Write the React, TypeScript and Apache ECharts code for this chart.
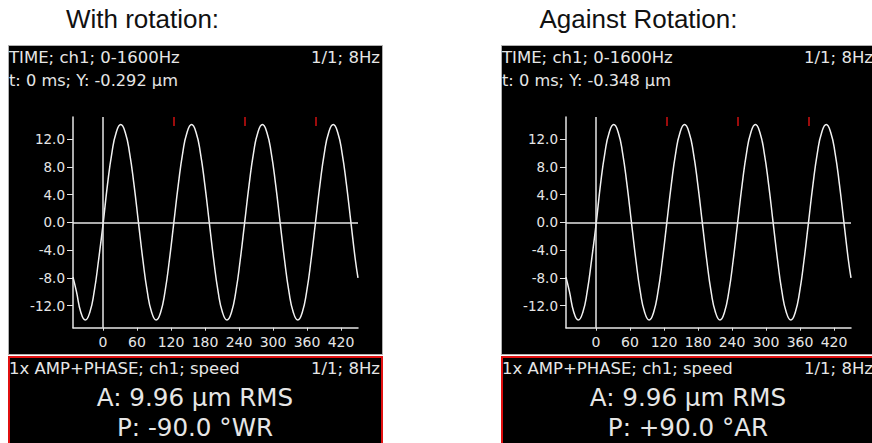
import React, { useEffect, useRef } from "react";
import * as echarts from "echarts";

// time axis (ms) sample positions
const times = [
  -53, -46.9, -39.1, -31.3, -23.4, -15.6, -7.8,
  0, 7.8, 15.6, 23.4, 31.3, 39.1, 46.9, 54.7, 62.5, 70.3, 78.1, 85.9, 93.8, 101.6, 109.4, 117.2,
  125, 132.8, 140.6, 148.4, 156.3, 164.1, 171.9, 179.7, 187.5, 195.3, 203.1, 210.9, 218.8, 226.6, 234.4, 242.2,
  250, 257.8, 265.6, 273.4, 281.3, 289.1, 296.9, 304.7, 312.5, 320.3, 328.1, 335.9, 343.8, 351.6, 359.4, 367.2,
  375, 382.8, 390.6, 398.4, 406.3, 414.1, 421.9, 429.7, 437.5, 445.3, 450,
];

// displacement (µm), "With rotation"
const leftValues = [
  -7.9, -10.0, -13.0, -14.1, -13.0, -10.0, -5.4,
  -0.3, 5.4, 10.0, 13.0, 14.1, 13.0, 10.0, 5.4, 0.0, -5.4, -10.0, -13.0, -14.1, -13.0, -10.0, -5.4,
  0.0, 5.4, 10.0, 13.0, 14.1, 13.0, 10.0, 5.4, 0.0, -5.4, -10.0, -13.0, -14.1, -13.0, -10.0, -5.4,
  0.0, 5.4, 10.0, 13.0, 14.1, 13.0, 10.0, 5.4, 0.0, -5.4, -10.0, -13.0, -14.1, -13.0, -10.0, -5.4,
  0.0, 5.4, 10.0, 13.0, 14.1, 13.0, 10.0, 5.4, 0.0, -5.4, -8.0,
];

// displacement (µm), "Against Rotation"
const rightValues = [
  -7.9, -10.0, -13.0, -14.1, -13.0, -10.0, -5.4,
  -0.35, 5.4, 10.0, 13.0, 14.1, 13.0, 10.0, 5.4, 0.0, -5.4, -10.0, -13.0, -14.1, -13.0, -10.0, -5.4,
  0.0, 5.4, 10.0, 13.0, 14.1, 13.0, 10.0, 5.4, 0.0, -5.4, -10.0, -13.0, -14.1, -13.0, -10.0, -5.4,
  0.0, 5.4, 10.0, 13.0, 14.1, 13.0, 10.0, 5.4, 0.0, -5.4, -10.0, -13.0, -14.1, -13.0, -10.0, -5.4,
  0.0, 5.4, 10.0, 13.0, 14.1, 13.0, 10.0, 5.4, 0.0, -5.4, -8.0,
];

const xTicks = [0, 60, 120, 180, 240, 300, 360, 420];
const yTicks = [-12, -8, -4, 0, 4, 8, 12];
const cycleMarks = [125, 250, 375];

const titles = ["With rotation:", "Against Rotation:"];
const headerLeft = "TIME; ch1; 0-1600Hz";
const headerRight = "1/1; 8Hz";
const cursorTexts = ["t: 0 ms; Y: -0.292 µm", "t: 0 ms; Y: -0.348 µm"];
const bottomHeader = "1x AMP+PHASE; ch1; speed";
const ampTexts = ["A: 9.96 µm RMS", "A: 9.96 µm RMS"];
const phaseTexts = ["P: -90.0 °WR", "P: +90.0 °AR"];

const MONO = '"DejaVu Sans", sans-serif';
const FG = "#e6e6e6";

export default function App() {
  const ref = useRef<HTMLDivElement>(null);

  useEffect(() => {
    document.body.style.margin = "0";
    if (!ref.current) return;
    const chart = echarts.init(ref.current, null, { renderer: "svg" });

    const offsets = [0, 493];
    const titleX = [142.5, 638.5];

    const graphics: any[] = [];
    offsets.forEach((o, i) => {
      graphics.push({
        type: "rect",
        z: -10,
        shape: { x: 8.5 + o, y: 45.5, width: 374, height: 309 },
        style: { fill: "#000", stroke: "#b0b0b0", lineWidth: 1 },
      });
      graphics.push({
        type: "rect",
        z: -10,
        shape: { x: 9 + o, y: 357, width: 373, height: 100 },
        style: { fill: "#000", stroke: "#e01010", lineWidth: 2 },
      });
      const txt = (text: string, x: number, y: number, size: number, align: string, color = FG, family = MONO) => ({
        type: "text",
        z: 10,
        style: {
          text,
          x,
          y,
          fill: color,
          fontSize: size,
          fontFamily: family,
          align,
          textAlign: align,
          verticalAlign: "middle",
          textVerticalAlign: "middle",
        },
      });
      graphics.push(txt(titles[i], titleX[i], 19, 26, "center", "#111", '"Liberation Sans", Arial, sans-serif'));
      graphics.push(txt(headerLeft, 9 + o, 57, 16.5, "left"));
      graphics.push(txt(headerRight, 380 + o, 57, 16.5, "right"));
      graphics.push(txt(cursorTexts[i], 9 + o, 80, 16.2, "left"));
      graphics.push(txt(bottomHeader, 9 + o, 368, 16.5, "left"));
      graphics.push(txt(headerRight, 380 + o, 368, 16.5, "right"));
      graphics.push(txt(ampTexts[i], 195 + o, 397, 24.6, "center"));
      graphics.push(txt(phaseTexts[i], 195 + o, 427, 24.6, "center"));
    });

    const axisLineStyle = { color: FG, width: 1.5 };
    const makeX = (gi: number) => ({
      type: "value",
      gridIndex: gi,
      min: -53,
      max: 450,
      axisLine: { show: true, onZero: false, lineStyle: axisLineStyle },
      axisTick: { show: true, customValues: xTicks, length: 3, lineStyle: { color: FG, width: 1 } },
      axisLabel: { customValues: xTicks, color: FG, fontSize: 14, fontFamily: MONO, margin: 7 },
      splitLine: { show: false },
    });
    const makeY = (gi: number) => ({
      type: "value",
      gridIndex: gi,
      min: -15.2,
      max: 15.2,
      axisLine: { show: true, onZero: false, lineStyle: axisLineStyle },
      axisTick: { show: true, customValues: yTicks, length: 6, lineStyle: { color: FG, width: 1 } },
      axisLabel: {
        customValues: yTicks,
        color: FG,
        fontSize: 13.5,
        fontFamily: MONO,
        margin: 8,
        formatter: (v: number) => v.toFixed(1),
      },
      splitLine: { show: false },
    });

    const makeSeries = (gi: number, vals: number[]) => ({
      type: "line",
      xAxisIndex: gi,
      yAxisIndex: gi,
      data: times.map((t, k) => [t, vals[k]]),
      smooth: true,
      showSymbol: false,
      symbol: "none",
      lineStyle: { color: "#f2f2f2", width: 1.5 },
      markLine: {
        silent: true,
        symbol: "none",
        label: { show: false },
        data: [
          { yAxis: 0, lineStyle: { color: FG, width: 1.5, type: "solid" } },
          { xAxis: 0, lineStyle: { color: FG, width: 1.5, type: "solid" } },
          ...cycleMarks.map((c) => [
            { coord: [c, 13.9], lineStyle: { color: "#d01010", width: 1.5, type: "solid" } },
            { coord: [c, 15.2] },
          ]),
        ],
      },
    });

    chart.setOption({
      animation: false,
      backgroundColor: "#ffffff",
      grid: [
        { left: 73, top: 117, width: 285, height: 210.7 },
        { left: 73 + 493, top: 117, width: 285, height: 210.7 },
      ],
      xAxis: [makeX(0), makeX(1)],
      yAxis: [makeY(0), makeY(1)],
      series: [makeSeries(0, leftValues), makeSeries(1, rightValues)],
      graphic: { elements: graphics },
    });

    return () => chart.dispose();
  }, []);

  return <div ref={ref} style={{ width: 872, height: 443 }} />;
}
